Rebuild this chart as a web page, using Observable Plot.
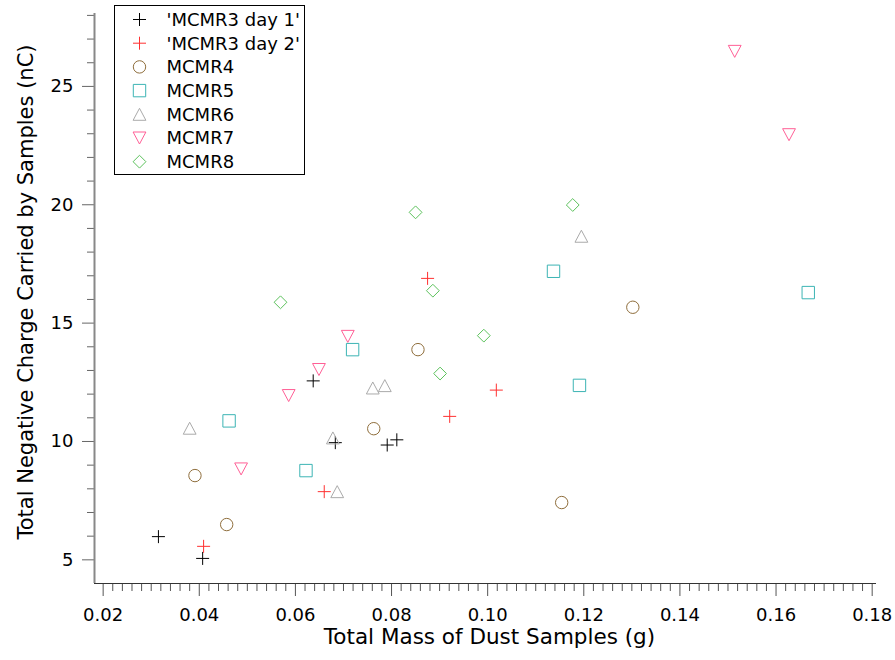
<!DOCTYPE html>
<html><head><meta charset="utf-8">
<script src="https://cdn.jsdelivr.net/npm/d3@7"></script>
<script src="https://cdn.jsdelivr.net/npm/@observablehq/plot@0.6"></script>
<style>body{margin:0;background:#fff;} svg{display:block}</style>
</head><body><div id="chart"></div>
<script>
// ---- data ----
const seriesNames = ["'MCMR3 day 1'", "'MCMR3 day 2'", "MCMR4", "MCMR5", "MCMR6", "MCMR7", "MCMR8"];
const seriesColors = ["#000000", "#ff3030", "#8f6e3c", "#3cb4b4", "#aaaaaa", "#ff5f96", "#5cc25c"];

const day1X = [0.0315, 0.0407, 0.0637, 0.0683, 0.0791, 0.0811];
const day1Y = [5.98, 5.06, 12.56, 9.95, 9.85, 10.07];
const day2X = [0.0409, 0.0660, 0.0875, 0.0921, 0.1018];
const day2Y = [5.57, 7.88, 16.89, 11.06, 12.17];
const mcmr4X = [0.0391, 0.0457, 0.0763, 0.0855, 0.1154, 0.1302];
const mcmr4Y = [8.56, 6.49, 10.54, 13.88, 7.42, 15.67];
const mcmr5X = [0.0462, 0.0622, 0.0719, 0.1137, 0.1191, 0.1667];
const mcmr5Y = [10.87, 8.77, 13.88, 17.19, 12.37, 16.29];
const mcmr6X = [0.0380, 0.0678, 0.0687, 0.0761, 0.0786, 0.1195];
const mcmr6Y = [10.56, 10.15, 7.88, 12.26, 12.36, 18.67];
const mcmr7X = [0.0487, 0.0586, 0.0649, 0.0709, 0.1514, 0.1627];
const mcmr7Y = [8.84, 11.94, 13.04, 14.44, 26.48, 22.96];
const mcmr8X = [0.0569, 0.0850, 0.0886, 0.0901, 0.0992, 0.1177];
const mcmr8Y = [15.88, 19.68, 16.37, 12.87, 14.47, 19.99];

const xTicks = [0.02, 0.04, 0.06, 0.08, 0.10, 0.12, 0.14, 0.16, 0.18];
const yTicks = [5, 10, 15, 20, 25];
const xDomain = [0.0182, 0.1809];
const yDomain = [4.0, 28.08];
const xTitle = "Total Mass of Dust Samples (g)";
const yTitle = "Total Negative Charge Carried by Samples (nC)";

// ---- symbols ----
const sc = s => Math.sqrt(s / Math.PI) / 6.5;
const symPlus = {draw(c, s){const k=sc(s), r=6.5*k; c.moveTo(-r,0); c.lineTo(r,0); c.moveTo(0,-r); c.lineTo(0,r);}};
const symCircle = {draw(c, s){const r=6.2*sc(s); c.moveTo(r,0); c.arc(0,0,r,0,2*Math.PI);}};
const symSquare = {draw(c, s){const r=6.2*sc(s); c.rect(-r,-r,2*r,2*r);}};
const symTriUp = {draw(c, s){const k=sc(s); c.moveTo(0,-6*k); c.lineTo(6.4*k,6*k); c.lineTo(-6.4*k,6*k); c.closePath();}};
const symTriDown = {draw(c, s){const k=sc(s); c.moveTo(0,6*k); c.lineTo(6.4*k,-6*k); c.lineTo(-6.4*k,-6*k); c.closePath();}};
const symDiamond = {draw(c, s){const r=6.4*sc(s); c.moveTo(0,-r); c.lineTo(r,0); c.lineTo(0,r); c.lineTo(-r,0); c.closePath();}};
const seriesSymbols = [symPlus, symPlus, symCircle, symSquare, symTriUp, symTriDown, symDiamond];

const seriesX = [day1X, day2X, mcmr4X, mcmr5X, mcmr6X, mcmr7X, mcmr8X];
const seriesY = [day1Y, day2Y, mcmr4Y, mcmr5Y, mcmr6Y, mcmr7Y, mcmr8Y];
const tables = seriesX.map((xs, i) => xs.map((x, j) => ({series: seriesNames[i], x, y: seriesY[i][j]})));

const xMinor = d3.range(0.02, 0.1801, 0.002).map(d => +d.toFixed(3)).filter(d => !xTicks.some(t => Math.abs(t - d) < 1e-6));
const yMinor = d3.range(5, 29, 1).filter(d => !yTicks.includes(d));

const plot = Plot.plot({
  width: 895, height: 660,
  marginLeft: 94, marginRight: 19, marginTop: 13, marginBottom: 77,
  style: {fontFamily: "DejaVu Sans", fontSize: "18px", color: "#000", background: "#fff", overflow: "visible"},
  x: {domain: xDomain, label: null},
  y: {domain: yDomain, label: null},
  marks: [
    Plot.axisX(xMinor, {tickSize: 8, tickFormat: () => "", stroke: "#555", label: null}),
    Plot.axisX(xTicks, {tickSize: 13, tickPadding: 12, tickFormat: d3.format(".2f"), stroke: "#555", label: null}),
    Plot.axisY(yMinor, {tickSize: 7, tickFormat: () => "", stroke: "#666", label: null}),
    Plot.axisY(yTicks, {tickSize: 12, tickPadding: 9, tickFormat: d3.format("d"), stroke: "#666", label: null}),
    Plot.ruleY([yDomain[0]], {stroke: "#333"}),
    Plot.ruleX([xDomain[0]], {stroke: "#888", strokeWidth: 2}),
    Plot.text([xTitle], {text: d => d, frameAnchor: "bottom", textAnchor: "middle", dy: 60, dx: 4, fontSize: 21.5}),
    Plot.text([yTitle], {text: d => d, frameAnchor: "left", textAnchor: "middle", rotate: -90, dx: -68, dy: -6.5, fontSize: 21}),
    ...tables.map((t, i) => Plot.dot(t, {x: "x", y: "y", symbol: seriesSymbols[i], r: 6.5, stroke: seriesColors[i], fill: "none", strokeWidth: 1}))
  ]
});
document.getElementById("chart").appendChild(plot);

// ---- legend (inside the SVG, top-left) ----
const svg = d3.select(plot);
const lg = svg.append("g").attr("text-anchor", "start");
lg.append("rect").attr("x", 114.5).attr("y", 5.5).attr("width", 190).attr("height", 169)
  .attr("fill", "#fff").attr("stroke", "#000");
seriesNames.forEach((name, i) => {
  const cy = 19.5 + i * 23.7;
  lg.append("path").attr("transform", `translate(139.5,${cy})`)
    .attr("d", d3.symbol(seriesSymbols[i], Math.PI * 6.5 * 6.5)())
    .attr("fill", "none").attr("stroke", seriesColors[i]).attr("stroke-width", 1);
  lg.append("text").attr("x", 166.5).attr("y", cy).attr("dy", "0.36em")
    .attr("text-anchor", "start").attr("font-size", 18).attr("fill", "#000").text(name);
});
</script>
</body></html>
